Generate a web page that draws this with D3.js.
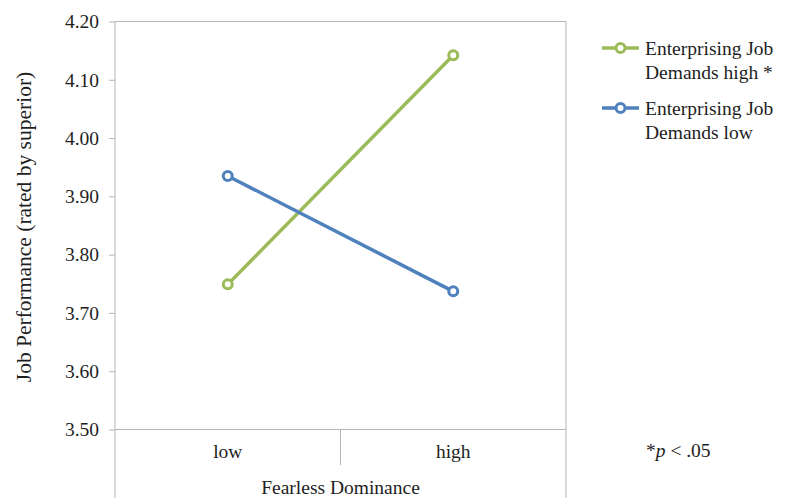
<!DOCTYPE html>
<html>
<head>
<meta charset="utf-8">
<script src="https://cdn.jsdelivr.net/npm/d3@7"></script>
<style>
  body { margin: 0; background: #fff; }
  text { font-family: "Liberation Serif", "Times New Roman", "DejaVu Serif", serif; fill: #1e1e1e; }
</style>
</head>
<body>
<svg id="chart" width="785" height="498"></svg>
<script>
var categories = ["low", "high"];
var yTicks = [3.50, 3.60, 3.70, 3.80, 3.90, 4.00, 4.10, 4.20];
var highDemands = [3.749, 4.142];
var lowDemands = [3.935, 3.737];
var seriesNames = [["Enterprising Job", "Demands high *"], ["Enterprising Job", "Demands low"]];
var colors = ["#9bbb59", "#4f81bd"];

var plotLeft = 115, plotRight = 566, plotTop = 21.5, plotBottom = 429.5;
var fs = 19.5;
var svg = d3.select("svg#chart");
var axisColor = "#b5b5b5";

var x = d3.scaleBand().domain(categories).range([plotLeft, plotRight]);
var y = d3.scaleLinear().domain([3.5, 4.2]).range([plotBottom, plotTop]);

// frame
svg.append("line").attr("x1", plotLeft).attr("x2", plotRight).attr("y1", plotTop).attr("y2", plotTop)
   .attr("stroke", axisColor);
svg.append("line").attr("x1", plotRight).attr("x2", plotRight).attr("y1", plotTop).attr("y2", 498)
   .attr("stroke", axisColor);

// y axis
var yAxis = svg.append("g").attr("transform", "translate(" + plotLeft + ",0)")
   .call(d3.axisLeft(y).tickValues(yTicks).tickFormat(d3.format(".2f")).tickSize(6).tickPadding(10));
yAxis.select(".domain").remove();
yAxis.append("line").attr("x1", 0).attr("x2", 0).attr("y1", plotTop).attr("y2", 498).attr("stroke", axisColor);
yAxis.selectAll(".tick line").attr("stroke", axisColor);
yAxis.selectAll(".tick text").attr("font-size", fs)
   .attr("font-family", "Liberation Serif, Times New Roman, serif").attr("fill", "#1e1e1e");

// x axis
svg.append("line").attr("x1", plotLeft).attr("x2", plotRight).attr("y1", plotBottom).attr("y2", plotBottom)
   .attr("stroke", axisColor);
categories.slice(1).forEach(function (c) {
  svg.append("line").attr("x1", x(c)).attr("x2", x(c)).attr("y1", plotBottom).attr("y2", 465)
     .attr("stroke", axisColor);
});
svg.selectAll(".xlab").data(categories).enter().append("text")
   .attr("x", function (d) { return x(d) + x.bandwidth() / 2; })
   .attr("y", 458).attr("text-anchor", "middle").attr("font-size", fs)
   .text(function (d) { return d; });

svg.append("text").attr("x", (plotLeft + plotRight) / 2).attr("y", 494).attr("text-anchor", "middle")
   .attr("font-size", fs).text("Fearless Dominance");
svg.append("text").attr("transform", "translate(31,227) rotate(-90)")
   .attr("text-anchor", "middle").attr("font-size", 21.5).text("Job Performance (rated by superior)");

// series
var series = [highDemands, lowDemands];
var line = d3.line()
   .x(function (d, i) { return x(categories[i]) + x.bandwidth() / 2; })
   .y(function (d) { return y(d); });
series.forEach(function (s, k) {
  var g = svg.append("g");
  g.append("path").attr("d", line(s)).attr("fill", "none").attr("stroke", colors[k]).attr("stroke-width", 3.5);
  g.selectAll("circle").data(s).enter().append("circle")
   .attr("cx", function (d, i) { return x(categories[i]) + x.bandwidth() / 2; })
   .attr("cy", function (d) { return y(d); })
   .attr("r", 4.5).attr("fill", "#fff").attr("stroke", colors[k]).attr("stroke-width", 3);
});

// legend
seriesNames.forEach(function (names, k) {
  var ly = 48 + k * 60;
  var g = svg.append("g");
  g.append("line").attr("x1", 602).attr("x2", 639).attr("y1", ly).attr("y2", ly)
   .attr("stroke", colors[k]).attr("stroke-width", 3.5);
  g.append("circle").attr("cx", 620.5).attr("cy", ly).attr("r", 4.5)
   .attr("fill", "#fff").attr("stroke", colors[k]).attr("stroke-width", 3);
  names.forEach(function (n, j) {
    g.append("text").attr("x", 645).attr("y", ly + 6.5 + j * 24).attr("font-size", fs).text(n);
  });
});

var note = svg.append("text").attr("x", 646).attr("y", 457).attr("font-size", fs);
note.append("tspan").text("*");
note.append("tspan").attr("font-style", "italic").text("p");
note.append("tspan").text(" < .05");
</script>
</body>
</html>
